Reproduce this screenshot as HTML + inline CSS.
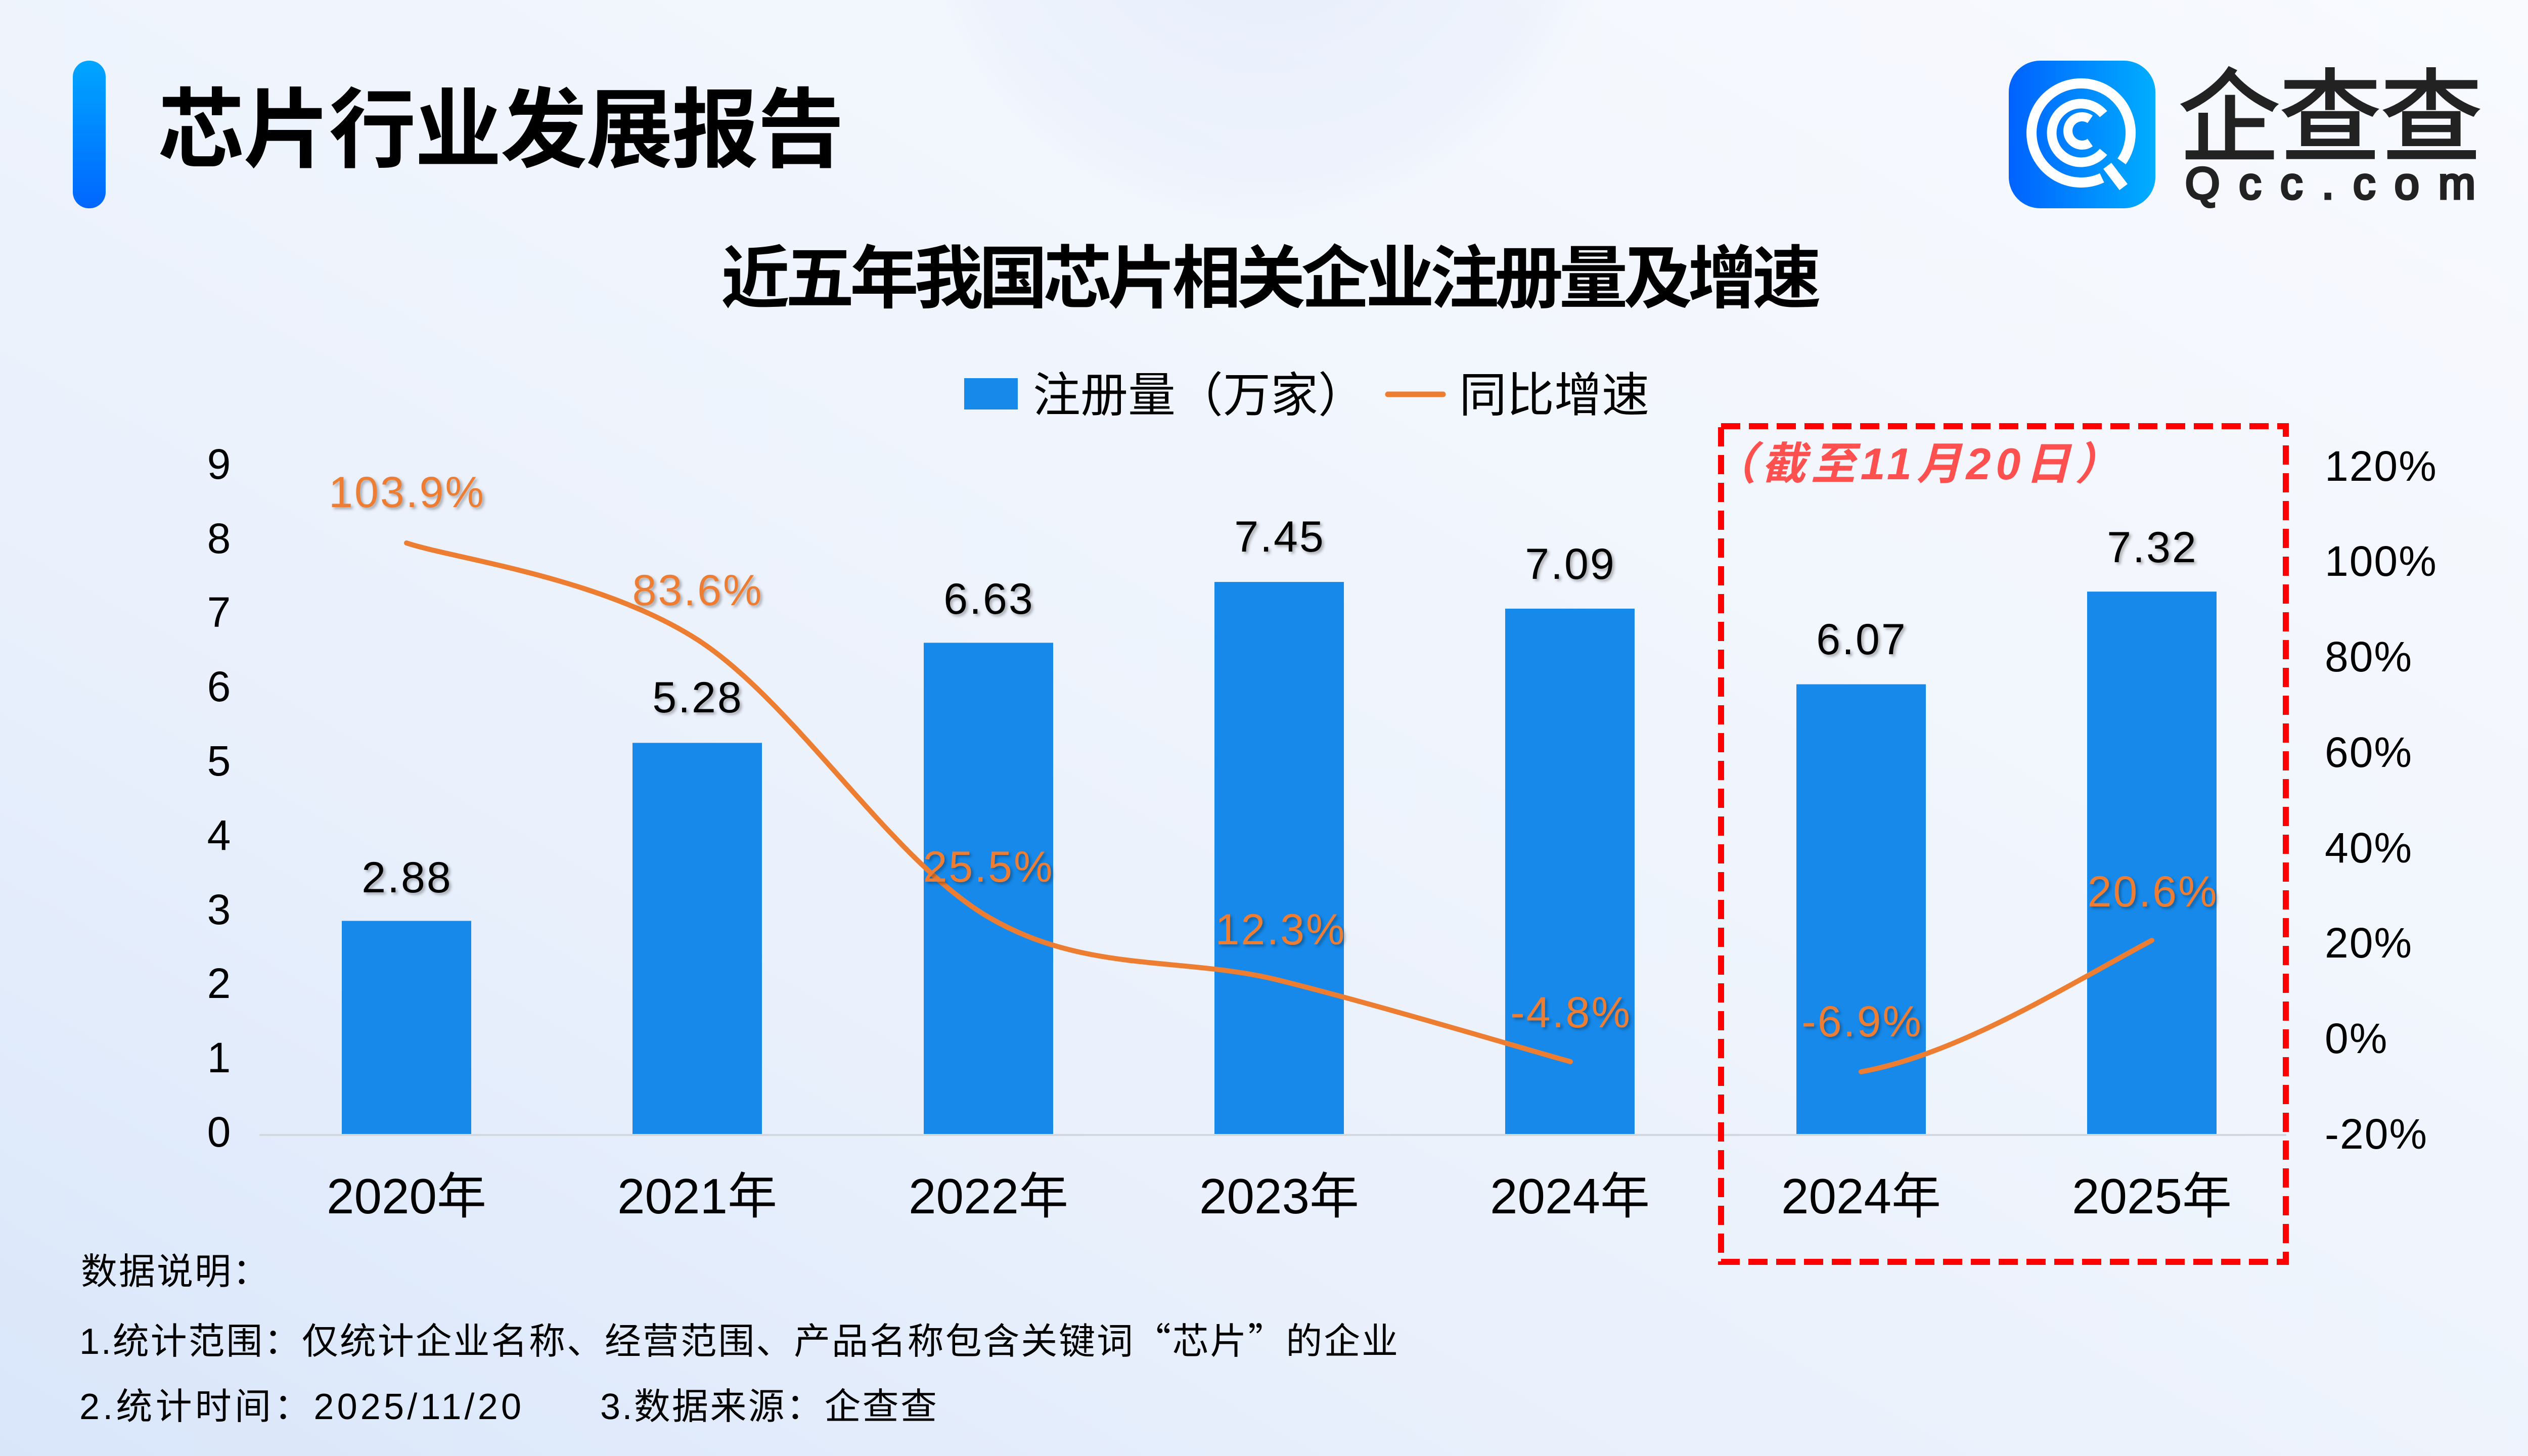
<!DOCTYPE html>
<html><head><meta charset="utf-8">
<style>
html,body{margin:0;padding:0;width:5120px;height:2880px;overflow:hidden;background:#F1F5FD;}
svg{display:block;}
text{font-family:"Liberation Sans","Noto Sans CJK SC",sans-serif;}
</style></head>
<body>
<svg width="5120" height="2880" viewBox="0 0 5120 2880" xmlns="http://www.w3.org/2000/svg">
<defs>
  <linearGradient id="bg" x1="0" y1="1" x2="1" y2="0">
    <stop offset="0" stop-color="#D9E6FA"/>
    <stop offset="0.3" stop-color="#E9F0FC"/>
    <stop offset="0.65" stop-color="#F2F6FD"/>
    <stop offset="1" stop-color="#F8FAFE"/>
  </linearGradient>
  <radialGradient id="topc" cx="2500" cy="-250" r="700" gradientUnits="userSpaceOnUse">
    <stop offset="0" stop-color="#E3EBFA" stop-opacity="0.8"/>
    <stop offset="0.85" stop-color="#E8EEFB" stop-opacity="0.5"/>
    <stop offset="1" stop-color="#E8EEFB" stop-opacity="0"/>
  </radialGradient>
  <linearGradient id="vbar" x1="0" y1="0" x2="0" y2="1">
    <stop offset="0" stop-color="#00A6FF"/>
    <stop offset="1" stop-color="#0066FF"/>
  </linearGradient>
  <linearGradient id="logo" x1="0" y1="0" x2="1" y2="0">
    <stop offset="0" stop-color="#0062FF"/>
    <stop offset="1" stop-color="#00AEFF"/>
  </linearGradient>
  <filter id="sh" x="-20%" y="-30%" width="140%" height="170%">
    <feDropShadow dx="4" dy="4" stdDeviation="3" flood-color="#000" flood-opacity="0.3"/>
  </filter>
</defs>

<rect x="0" y="0" width="5120" height="2880" fill="url(#bg)"/>
<rect x="0" y="0" width="5120" height="1000" fill="url(#topc)"/>

<!-- header -->
<rect x="144" y="120" width="65" height="292" rx="32" ry="32" fill="url(#vbar)"/>
<text x="312" y="317" font-size="172" font-weight="700" fill="#000" textLength="1358" lengthAdjust="spacing">芯片行业发展报告</text>

<!-- logo -->
<rect x="3973" y="120" width="290" height="292" rx="62" ry="62" fill="url(#logo)"/>
<g fill="none" stroke="#fff" stroke-linecap="butt">
  <path d="M 4157.4 351.8 A 98 98 0 1 1 4196.3 319.2" stroke-width="20"/>
  <path d="M 4160.4 300.3 A 58 58 0 1 1 4160.4 225.7" stroke-width="19"/>
  <path d="M 4134 282 A 28 28 0 1 1 4134 236" stroke-width="18"/>
  <line x1="4168" y1="328" x2="4200" y2="370" stroke-width="20"/>
</g>
<text x="4309" y="303" font-size="200" fill="#222" stroke="#222" stroke-width="4" textLength="600" lengthAdjust="spacing">企查查</text>
<text x="4322" y="393" font-size="88" fill="#222" stroke="#222" stroke-width="5" textLength="574" lengthAdjust="spacing">Qcc.com</text>

<!-- chart title -->
<text x="1426" y="598" font-size="136" font-weight="700" fill="#000" textLength="2176" lengthAdjust="spacing">近五年我国芯片相关企业注册量及增速</text>

<!-- legend -->
<rect x="1907" y="748" width="106" height="62" fill="#1689EA"/>
<text x="2043" y="814" font-size="94" fill="#000">注册量（万家）</text>
<line x1="2745" y1="780" x2="2854" y2="780" stroke="#ED7D31" stroke-width="11" stroke-linecap="round"/>
<text x="2886" y="814" font-size="94" fill="#000">同比增速</text>

<!-- left axis labels -->
<g font-size="84" fill="#000" text-anchor="middle">
  <text x="433" y="2268">0</text>
  <text x="433" y="2121">1</text>
  <text x="433" y="1974">2</text>
  <text x="433" y="1828">3</text>
  <text x="433" y="1681">4</text>
  <text x="433" y="1534">5</text>
  <text x="433" y="1387">6</text>
  <text x="433" y="1240">7</text>
  <text x="433" y="1094">8</text>
  <text x="433" y="947">9</text>
</g>

<!-- right axis labels -->
<g font-size="84" fill="#000" letter-spacing="2">
  <text x="4598" y="2272">-20%</text>
  <text x="4598" y="2083">0%</text>
  <text x="4598" y="1894">20%</text>
  <text x="4598" y="1706">40%</text>
  <text x="4598" y="1517">60%</text>
  <text x="4598" y="1328">80%</text>
  <text x="4598" y="1139">100%</text>
  <text x="4598" y="951">120%</text>
</g>

<!-- bars -->
<g fill="#1689EA">
  <rect x="676" y="1821.5" width="256" height="422.5"/>
  <rect x="1251" y="1469.4" width="256" height="774.6"/>
  <rect x="1827" y="1271.4" width="256" height="972.6"/>
  <rect x="2402" y="1151.1" width="256" height="1092.9"/>
  <rect x="2977" y="1203.9" width="256" height="1040.1"/>
  <rect x="3553" y="1353.5" width="256" height="890.5"/>
  <rect x="4128" y="1170.2" width="256" height="1073.8"/>
</g>

<!-- axis line -->
<line x1="513" y1="2245" x2="4522" y2="2245" stroke="#D3D7DE" stroke-width="4"/>

<!-- growth line -->
<path d="M 804 1074 C 899.8 1105.8, 1187.2 1141.7, 1379 1265 C 1570.8 1388.3, 1763.2 1701.7, 1955 1814 C 2146.8 1926.3, 2338.2 1891.3, 2530 1939 C 2721.8 1986.7, 3010 2073.2, 3106 2100" fill="none" stroke="#ED7D31" stroke-width="10" stroke-linecap="round" stroke-linejoin="round"/>
<path d="M 3681 2120 C 3872 2085, 4070 1960, 4256 1860" fill="none" stroke="#ED7D31" stroke-width="10" stroke-linecap="round"/>

<!-- bar value labels -->
<g font-size="86" fill="#000" text-anchor="middle" letter-spacing="3" filter="url(#sh)">
  <text x="805" y="1765">2.88</text>
  <text x="1380" y="1409">5.28</text>
  <text x="1956" y="1214">6.63</text>
  <text x="2531" y="1091">7.45</text>
  <text x="3106" y="1145">7.09</text>
  <text x="3682" y="1294">6.07</text>
  <text x="4257" y="1112">7.32</text>
</g>

<!-- growth labels -->
<g font-size="86" fill="#ED7D31" text-anchor="middle" letter-spacing="3" filter="url(#sh)">
  <text x="805" y="1003">103.9%</text>
  <text x="1380" y="1197">83.6%</text>
  <text x="1955" y="1744">25.5%</text>
  <text x="2533" y="1868">12.3%</text>
  <text x="3107" y="2032">-4.8%</text>
  <text x="3683" y="2050">-6.9%</text>
  <text x="4258" y="1793">20.6%</text>
</g>

<!-- x labels -->
<g font-size="98" fill="#000" text-anchor="middle">
  <text x="804" y="2400">2020年</text>
  <text x="1379" y="2400">2021年</text>
  <text x="1955" y="2400">2022年</text>
  <text x="2530" y="2400">2023年</text>
  <text x="3105" y="2400">2024年</text>
  <text x="3681" y="2400">2024年</text>
  <text x="4256" y="2400">2025年</text>
</g>

<!-- dashed highlight -->
<rect x="3404" y="843" width="1117" height="1653" fill="none" stroke="#FF0000" stroke-width="12" stroke-dasharray="38 17"/>
<text x="3386" y="948" font-size="88" font-weight="700" font-style="italic" fill="#FF5050" textLength="806" lengthAdjust="spacing">（截至11月20日）</text>

<!-- footnotes -->
<g font-size="72" fill="#000">
  <text x="160" y="2540" letter-spacing="3">数据说明：</text>
  <text x="157" y="2678" textLength="2608" lengthAdjust="spacing">1.统计范围：仅统计企业名称、经营范围、产品名称包含关键词<tspan font-family="Noto Sans CJK SC, sans-serif">“</tspan>芯片<tspan font-family="Noto Sans CJK SC, sans-serif">”</tspan>的企业</text>
  <text x="157" y="2807" textLength="874" lengthAdjust="spacing">2.统计时间：2025/11/20</text>
  <text x="1187" y="2807" textLength="666" lengthAdjust="spacing">3.数据来源：企查查</text>
</g>
</svg>
</body></html>
